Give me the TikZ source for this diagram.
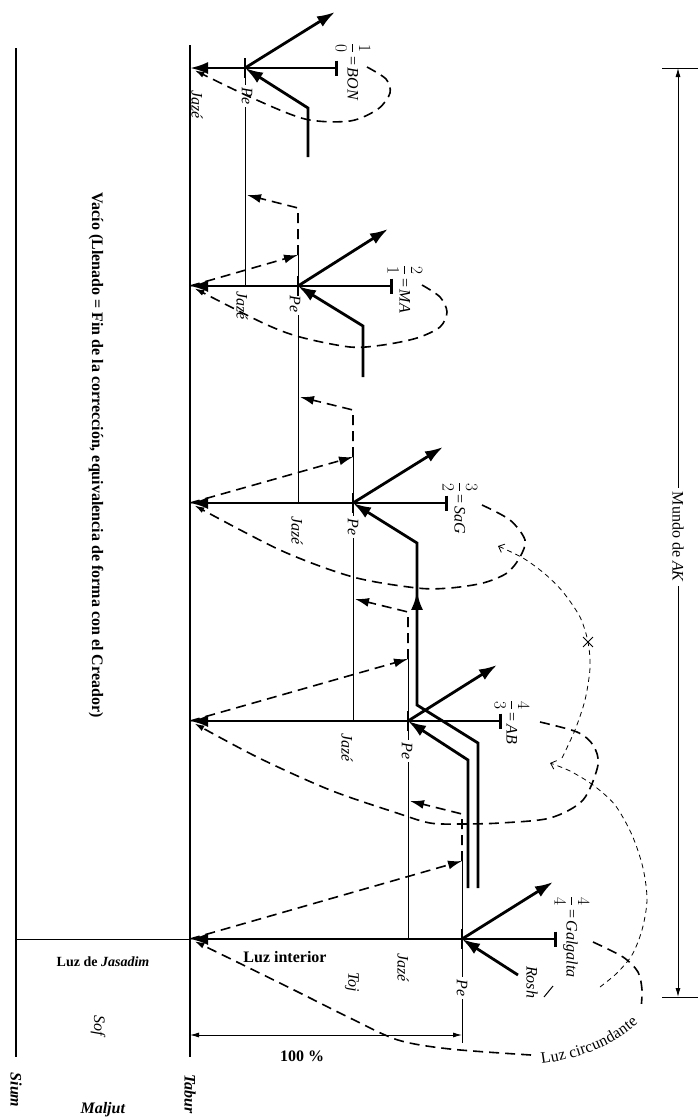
\documentclass[tikz,border=0pt]{standalone}
\usepackage{fontspec}
\setmainfont{Liberation Serif}
\usepackage{tikz}
\usetikzlibrary{calc,arrows.meta,decorations.markings,decorations.text,shapes.misc}

\begin{document}
\begin{tikzpicture}[x=1pt,y=-1pt,
  every node/.style={font=\fontsize{16}{19}\selectfont},
  lbl/.style={rotate=-90,inner sep=1pt},
  beam/.style={line width=2.8pt,-{Latex[length=18pt,width=12pt]}},
  station/.style={line width=2.8pt,{Bar[width=15pt]}-{Latex[length=18pt,width=12pt]}},
  tick/.style={line width=2.8pt},
  thinline/.style={line width=0.7pt},
  reflect/.style={line width=1.6pt,dash pattern=on 10pt off 6pt,-{Latex[length=14pt,width=9pt]}},
  surround/.style={line width=1.6pt,dash pattern=on 10pt off 6pt,-{Latex[length=10pt,width=6pt]},shorten >=5pt},
  faint/.style={line width=0.8pt,dash pattern=on 5pt off 4pt,-{Straight Barb[length=5pt,width=9pt]}},
  dim/.style={line width=0.9pt,{Latex[length=9pt,width=5pt]}-{Latex[length=9pt,width=5pt]}}]
      \useasboundingbox (0,0) rectangle (698,1119);

      % stations: Tabur, Pe and end of each partzuf
      \coordinate (t1) at (190,68);  \coordinate (p1) at (245,68);  \coordinate (e1) at (338,68);
      \coordinate (t2) at (190,286); \coordinate (p2) at (298,286); \coordinate (e2) at (393,286);
      \coordinate (t3) at (190,503); \coordinate (p3) at (353,503); \coordinate (e3) at (448,503);
      \coordinate (t4) at (190,721); \coordinate (p4) at (408,721); \coordinate (e4) at (502,721);
      \coordinate (t5) at (190,939); \coordinate (p5) at (462,939); \coordinate (e5) at (557,939);
      \coordinate (o1) at (335,12);  \coordinate (o2) at (388,229); \coordinate (o3) at (443,447);
      \coordinate (o4) at (497,665); \coordinate (o5) at (553,882);
      \coordinate (j2) at (245,286); \coordinate (j3) at (298,503); \coordinate (j4) at (353,721);
      \coordinate (j5) at (408,939); \coordinate (foot) at (462,1043);
      \coordinate (a2) at (298,255); \coordinate (b2) at (298,208); \coordinate (c2) at (247,195);
      \coordinate (a3) at (353,457); \coordinate (b3) at (353,410); \coordinate (c3) at (300,397);
      \coordinate (a4) at (408,659); \coordinate (b4) at (408,612); \coordinate (c4) at (355,599);
      \coordinate (a5) at (462,861); \coordinate (b5) at (462,814); \coordinate (c5) at (410,801);

      % Sium and Tabur
      \coordinate (sium top) at (16,48);  \coordinate (sium bot) at (16,1057);
      \coordinate (tabur top) at (190,45); \coordinate (tabur bot) at (190,1057);
      \coordinate (sium mid) at (16,939);
      \draw[line width=1.6pt] (sium top) -- (sium bot);
      \draw[line width=1.6pt] (tabur top) -- (tabur bot);
      \draw[thinline] (sium mid) -- (t5);

      % thin lines of Jaze
      \draw[thinline] (p1) -- (j2);
      \draw[thinline] (a2) -- (j3);
      \draw[thinline] (a3) -- (j4);
      \draw[thinline] (a4) -- (j5);
      \draw[thinline] (a5) -- (foot);

      \node[lbl,fill=white,inner sep=3pt] (pe1) at (247,96) {\textit{Pe}};
      \node[lbl,fill=white,inner sep=3pt] (pe2) at (295,304) {\textit{Pe}};
      \node[lbl,fill=white,inner sep=3pt] (pe3) at (353,527) {\textit{Pe}};
      \node[lbl,fill=white,inner sep=3pt] (pe4) at (407,751) {\textit{Pe}};
      \node[lbl,fill=white,inner sep=3pt] (pe5) at (462,988) {\textit{Pe}};
      \node[lbl] (jaze1) at (197,105) {\textit{Jazé}};
      \node[lbl] (jaze2) at (242,306) {\textit{Jazé}};
      \node[lbl] (jaze3) at (297,531) {\textit{Jazé}};
      \node[lbl] (jaze4) at (347,748) {\textit{Jazé}};
      \node[lbl] (jaze5) at (403,968) {\textit{Jazé}};

      \node[lbl] (bon) at (353,72) {$\displaystyle\frac{1}{0}$\,=\,\textit{BON}};
      \node[lbl] (ma) at (405,289) {$\displaystyle\frac{2}{1}$\,=\,\textit{MA}};
      \node[lbl] (sag) at (460,508) {$\displaystyle\frac{3}{2}$\,=\,\textit{SaG}};
      \node[lbl] (ab) at (512,722) {$\displaystyle\frac{4}{3}$\,=\,\textit{AB}};
      \node[lbl] (galgalta) at (572,937) {$\displaystyle\frac{4}{4}$\,=\,\textit{Galgalta}};

      % reflected light
      \draw[reflect] (t2) -- (a2); \draw[reflect] (a2) -- (b2) -- (c2);
      \draw[reflect] (t3) -- (a3); \draw[reflect] (a3) -- (b3) -- (c3);
      \draw[reflect] (t4) -- (a4); \draw[reflect] (a4) -- (b4) -- (c4);
      \draw[reflect] (t5) -- (a5); \draw[reflect] (a5) -- (b5) -- (c5);

      % surrounding light
      \draw[surround] plot[smooth] coordinates {(367,67) (386,79) (390,93) (378,109) (350,121) (305,119) (250,97) (t1)};
      \draw[surround] plot[smooth] coordinates {(422,285) (440,297) (447,312) (440,327) (417,338) (383,345) (350,347) (300,337) (263,323) (t2)};
      \draw[surround] plot[smooth] coordinates {(482,505) (510,520) (525,540) (520,557) (507,573) (483,583) (450,588) (417,588) (353,577) (280,550) (t3)};
      \draw[surround] plot[smooth] coordinates {(540,722) (577,732) (593,745) (598,765) (583,800) (550,818) (500,823) (462,824) (430,823) (397,813) (330,790) (257,757) (t4)};
      \draw[surround] plot[smooth] coordinates {(531,1055) (450,1049) (398,1040) (350,1018) (290,988) (t5)};
      \draw[surround,-] plot[smooth] coordinates {(593,942) (623,957) (638,972) (642,990) (641,1008)};
      \path[decorate,decoration={text along path,text align={center},raise=-5pt,
        text={|\fontsize{16}{19}\selectfont|Luz circundante}}]
        (528,1060) .. controls (575,1056) and (615,1042) .. (644,1010);

      % paths between the loops
      \draw[faint] plot[smooth] coordinates {(600,987) (617,973) (632,955) (642,930) (647,900) (643,868) (632,835) (615,805) (593,785) (570,771) (550,763)};
      \draw[faint] plot[smooth] coordinates {(562,758) (575,730) (585,700) (590,668) (588,642) (580,617) (563,592) (545,574) (523,558) (498,546)};
      \node[draw,cross out,minimum size=9pt,inner sep=0pt,line width=0.9pt] (veto) at (588,642) {};

      % light coming in and going out
      \coordinate (i1a) at (308,157); \coordinate (i1b) at (308,108);
      \coordinate (i2a) at (363,377); \coordinate (i2b) at (363,326);
      \coordinate (i3a) at (478,888); \coordinate (i3b) at (478,743);
      \coordinate (i3c) at (417,705); \coordinate (i3d) at (417,543);
      \coordinate (i4a) at (468,888); \coordinate (i4b) at (468,760);
      \coordinate (rosh) at (518,975);
      \draw[beam] (i1a) -- (i1b) -- (p1);
      \draw[beam] (i2a) -- (i2b) -- (p2);
      \draw[beam,postaction={decorate},decoration={markings,mark=at position 330pt with {\arrow{Latex[length=18pt,width=12pt]}}}] (i3a) -- (i3b) -- (i3c) -- (i3d) -- (p3);
      \draw[beam] (i4a) -- (i4b) -- (p4);
      \draw[beam] (rosh) -- (p5);
      \draw[line width=1pt] (544,997) -- (553,986);

      \draw[station] (e1) -- (t1);
      \draw[station] (e2) -- (t2);
      \draw[station] (e3) -- (t3);
      \draw[station] (e4) -- (t4);
      \draw[station] (e5) -- (t5);
      \draw[tick] ([yshift=-10pt]p1) -- ([yshift=10pt]p1);
      \draw[tick] ([yshift=-10pt]p2) -- ([yshift=10pt]p2);
      \draw[tick] ([yshift=-10pt]p3) -- ([yshift=10pt]p3);
      \draw[tick] ([yshift=-10pt]p4) -- ([yshift=10pt]p4);
      \draw[tick] ([yshift=-10pt]p5) -- ([yshift=10pt]p5);
      \draw[beam] (p1) -- (o1);
      \draw[beam] (p2) -- (o2);
      \draw[beam] (p3) -- (o3);
      \draw[beam] (p4) -- (o4);
      \draw[beam] (p5) -- (o5);

      % measures
      \coordinate (ak top) at (678,68); \coordinate (ak bot) at (678,997);
      \draw[dim] (ak top) -- (ak bot);
      \draw[line width=0.9pt] ([xshift=-16pt]ak top) -- ([xshift=20pt]ak top);
      \draw[line width=0.9pt] ([xshift=-16pt]ak bot) -- ([xshift=20pt]ak bot);
      \node[lbl,fill=white,inner sep=4pt] (ak) at (678,537) {Mundo de \textit{AK}};
      \coordinate (full left) at (190,1035); \coordinate (full right) at (462,1035);
      \draw[dim] (full left) -- (full right);

      \node (pct) at (302,1056) {\textbf{100 \%}};
      \node (interior) at (285,957) {\textbf{Luz interior}};
      \node[font=\fontsize{14}{17}\selectfont] (jasadim) at (103,962) {\textbf{Luz de \textit{Jasadim}}};
      \node[lbl] (toj) at (352,982) {\textit{Toj}};
      \node[lbl] (roshlbl) at (532,982) {\textit{Rosh}};
      \node[lbl] (sof) at (98,1027) {\textit{Sof}};
      \node[lbl] (sium) at (16,1090) {\textbf{\textit{Sium}}};
      \node[lbl] (tabur) at (190,1094) {\textbf{\textit{Tabur}}};
      \node (maljut) at (103,1110) {\textbf{\textit{Maljut}}};
      \node[lbl] (vacio) at (96,455) {\textbf{Vacío (Llenado = Fin de la corrección, equivalencia de forma con el Creador)}};
    \end{tikzpicture}
\end{document}
